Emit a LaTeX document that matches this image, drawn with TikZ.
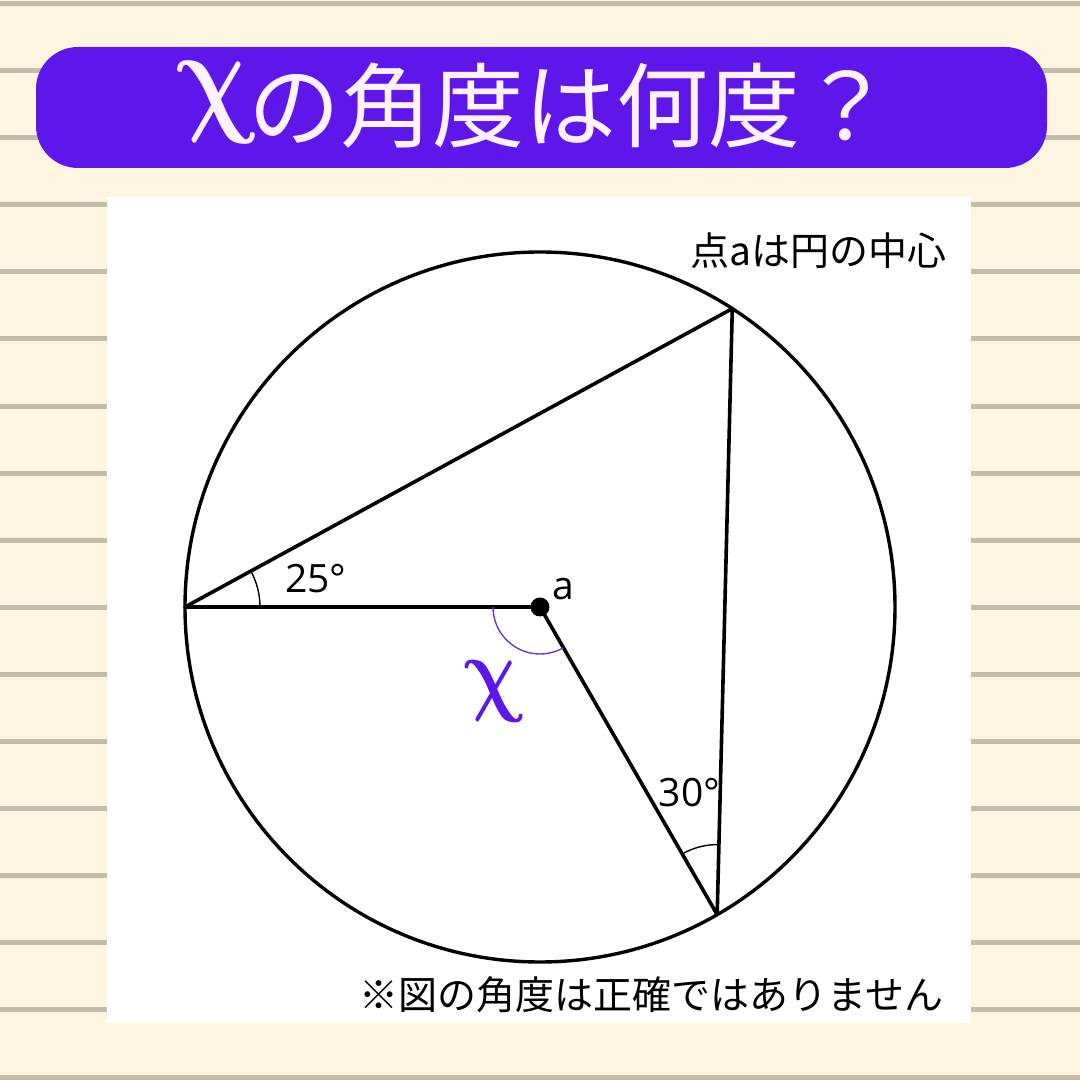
\documentclass[tikz,border=0pt]{standalone}
\usepackage{fontspec}
\usepackage{graphicx}
\setmainfont{Open Sans}
\newfontfamily\jpfont{Noto Sans CJK JP}
\usetikzlibrary{angles}
\definecolor{bgcream}{RGB}{254,245,224}
\definecolor{stripecol}{RGB}{196,188,170}
\definecolor{bannercol}{HTML}{5E17EB}
\definecolor{titlewhite}{RGB}{255,242,255}
\definecolor{xpurple}{HTML}{5E17EB}
\definecolor{arcpurple}{RGB}{100,60,200}
\newcommand{\chiglyph}{{\boldmath$\chi$}}
\tikzset{
  edge/.style={line width=3.6pt, line join=round, line cap=round},
  thinarc/.style={draw, line width=1.4pt},
  lbl/.style={inner sep=0pt, font=\fontsize{39}{39}\selectfont},
  note/.style={inner sep=0pt, font=\jpfont\fontsize{39}{39}\selectfont},
  titletext/.style={inner sep=0pt, text=titlewhite, font=\jpfont\fontsize{92}{92}\selectfont},
  xglyph/.style={inner sep=0pt, transform shape, xslant=-0.22},
  dotnode/.style={circle, fill=black, inner sep=0pt, minimum size=19pt}
}
\begin{document}
\begin{tikzpicture}[x=1pt,y=1pt]
\useasboundingbox (0,0) rectangle (1080,1080);
\fill[bgcream] (0,0) rectangle (1080,1080);
\foreach \k in {0,...,16}
  \fill[stripecol] (0,{1080-3.5-67.1*\k-2.5}) rectangle (1080,{1080-3.5-67.1*\k+2.5});
% banner
\fill[bannercol, rounded corners=42pt] (36,912) rectangle (1047,1033);
\node[xglyph, text=titlewhite] (tx) at (217,977) {\scalebox{10.2}[12.8]{\chiglyph}};
\node[titletext, anchor=west] (tt) at (248.6,974) {の角度は何度？};
% white panel
\fill[white] (107,57) rectangle (971,883);
\node[note, anchor=east] (n1) at (946.5,829) {点aは円の中心};
\node[note, anchor=east] (n2) at (944,85) {※図の角度は正確ではありません};
% geometry
\coordinate (A) at (540,473);
\coordinate (P1) at ([shift={(A)}]180:355);
\coordinate (P2) at ([shift={(A)}]57.2:355);
\coordinate (P3) at ([shift={(A)}]-60.06:355);
\draw[line width=3.4pt] (A) circle[radius=355];
\draw[edge] (P1) -- (P2) -- (P3) -- (A) -- cycle;
\pic[thinarc, angle radius=75pt] {angle = A--P1--P2};
\pic[thinarc, angle radius=70pt] {angle = P2--P3--A};
\pic[draw=arcpurple, line width=1.4pt, angle radius=47pt] {angle = P1--A--P3};
\node[dotnode] (dotA) at (A) {};
\node[lbl] (l25) at (316,501) {25°};
\node[lbl] (l30) at (689.5,287) {30°};
\node[lbl] (la) at (563,490.5) {a};
\node[xglyph, text=xpurple] (lx) at (494.5,388) {\scalebox{7.6}[9.6]{\chiglyph}};
\end{tikzpicture}
\end{document}
